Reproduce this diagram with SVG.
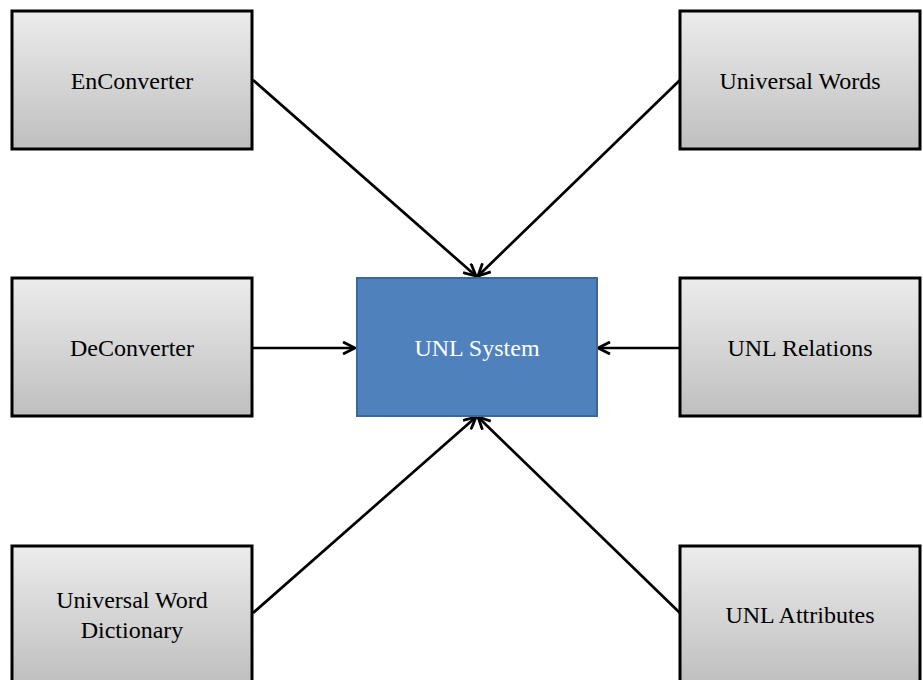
<svg xmlns="http://www.w3.org/2000/svg" width="923" height="680" viewBox="0 0 923 680">
  <style>
    .box { fill: url(#grey); stroke: #000; stroke-width: 3; }
    .hub { fill: #4f81bd; stroke: #3d6796; stroke-width: 2; }
    .lbl { font-family: "Liberation Serif", "Times New Roman", serif; font-size: 24px; fill: #000; text-anchor: middle; }
    .hubl { font-family: "Liberation Serif", "Times New Roman", serif; font-size: 24px; fill: #fff; text-anchor: middle; }
    .conn { stroke: #000; stroke-width: 2.7; fill: none; marker-end: url(#arr); }
  </style>
  <defs>
    <linearGradient id="grey" x1="0" y1="0" x2="0" y2="1">
      <stop offset="0" stop-color="#ececec"/>
      <stop offset="1" stop-color="#bfbfbf"/>
    </linearGradient>
    <marker id="arr" viewBox="0 0 14 14" refX="13" refY="7" markerWidth="14" markerHeight="14" markerUnits="userSpaceOnUse" orient="auto">
      <path d="M1,1 L13,7 L1,13" fill="none" stroke="#000" stroke-width="2.8"/>
    </marker>
  </defs>

  <g id="connectors">
    <line class="conn" x1="253" y1="80" x2="476" y2="276"/>
    <line class="conn" x1="680" y1="80" x2="478" y2="276"/>
    <line class="conn" x1="253" y1="348" x2="355" y2="348"/>
    <line class="conn" x1="680" y1="348" x2="598" y2="348"/>
    <line class="conn" x1="253" y1="613" x2="476" y2="417"/>
    <line class="conn" x1="680" y1="613" x2="478" y2="417"/>
  </g>

  <g id="unl-system">
    <rect class="hub" x="357" y="278" width="240" height="138"/>
    <text class="hubl" x="477" y="356">UNL System</text>
  </g>

  <g id="enconverter">
    <rect class="box" x="12" y="11" width="240" height="138"/>
    <text class="lbl" x="132" y="89">EnConverter</text>
  </g>

  <g id="universal-words">
    <rect class="box" x="680" y="11" width="240" height="138"/>
    <text class="lbl" x="800" y="89">Universal Words</text>
  </g>

  <g id="deconverter">
    <rect class="box" x="12" y="278" width="240" height="138"/>
    <text class="lbl" x="132" y="356">DeConverter</text>
  </g>

  <g id="unl-relations">
    <rect class="box" x="680" y="278" width="240" height="138"/>
    <text class="lbl" x="800" y="356">UNL Relations</text>
  </g>

  <g id="universal-word-dictionary">
    <rect class="box" x="12" y="546" width="240" height="138"/>
    <text class="lbl" x="132" y="608">Universal Word</text>
    <text class="lbl" x="132" y="638">Dictionary</text>
  </g>

  <g id="unl-attributes">
    <rect class="box" x="680" y="546" width="240" height="138"/>
    <text class="lbl" x="800" y="623">UNL Attributes</text>
  </g>
</svg>
